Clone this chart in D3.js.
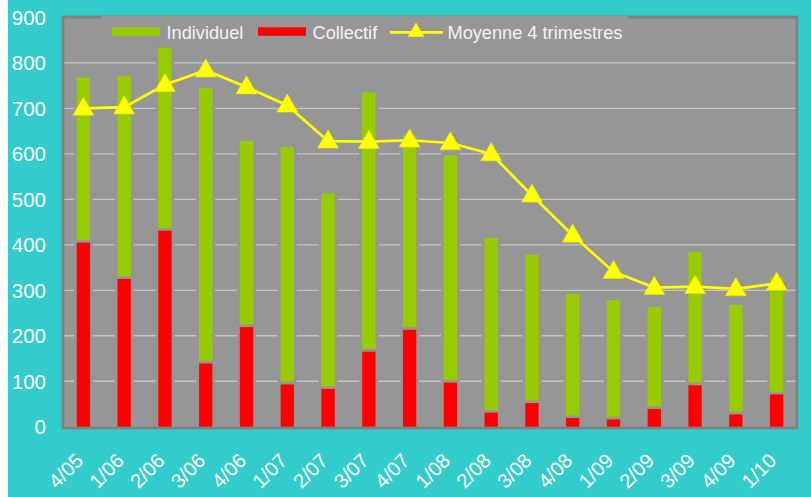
<!DOCTYPE html>
<html>
<head>
<meta charset="utf-8">
<script src="https://cdn.jsdelivr.net/npm/d3@7"></script>
<style>
    body{ margin:0; background:#ffffff; }
    svg{ display:block; font-family: Arial, "Liberation Sans", sans-serif; }
</style>
</head>
<body>
<div id="chart"></div>
<script>
// DATA ---------------------------------------------------------------------
const quarters = ["4/05","1/06","2/06","3/06","4/06","1/07","2/07","3/07","4/07",
                  "1/08","2/08","3/08","4/08","1/09","2/09","3/09","4/09","1/10"];
const collectif = [405, 325, 431, 139, 219, 93, 83, 165, 213, 97, 31, 52, 19, 16, 39, 91, 27, 71];
const individuel = [363, 446, 405, 606, 409, 522, 430, 570, 428, 500, 384, 326, 273, 262, 224, 294, 241, 258];
const moyenne = [700, 703, 752, 784, 747, 707, 628, 627, 630, 624, 600, 509, 421, 341, 306, 308, 303, 315];
const yTicks = [0, 100, 200, 300, 400, 500, 600, 700, 800, 900];
const legendItems = ["Individuel", "Collectif", "Moyenne 4 trimestres"];
// DATA ---------------------------------------------------------------------

class ComboChart{
    constructor(div){
        this.elements = { container: div, scales: {} };
        this.settings = {
            width: 811,
            height: 497,
            plot: { left: 63, right: 797, top: 17, bottom: 428 },
            colors: {
                page: "#33cccc",
                plot: "#969696",
                border: "#808080",
                grid: "#c4c4c4",
                individuel: "#99cc00",
                collectif: "#ff0000",
                moyenne: "#ffff00",
                text: "#ffffff",
            },
            halo: 2.7,
        };
    }

    //CONTROLLER ---------------------------------------------------------------
    renderChart(){
        this.createSvg();
        this.createScales();
        this.drawPlotArea();
        this.drawGrid();
        this.drawBars();
        this.drawLine();
        this.drawAxes();
        this.drawLegend();
    }

    createSvg(){
        const { width, height, colors } = this.settings;
        this.elements.svg = d3.select(this.elements.container)
            .append("svg")
            .attr("width", width)
            .attr("height", height);

        this.elements.svg.append("rect")
            .attr("x", 8).attr("y", 0)
            .attr("width", width - 8).attr("height", height)
            .attr("fill", colors.page);
    }

    createScales(){
        const { plot } = this.settings;
        this.elements.scales.x = d3.scaleBand()
            .domain(quarters)
            .range([plot.left, plot.right])
            .paddingInner(0.673)
            .paddingOuter(0.3365);

        this.elements.scales.y = d3.scaleLinear()
            .domain([0, 900])
            .range([plot.bottom - 1.3, plot.top + 0.5]);
    }

    //PLOT ---------------------------------------------------------------------
    drawPlotArea(){
        const { plot, colors } = this.settings;
        this.elements.svg.append("rect")
            .attr("x", plot.left)
            .attr("y", plot.top)
            .attr("width", plot.right - plot.left)
            .attr("height", plot.bottom - plot.top)
            .attr("fill", colors.plot)
            .attr("stroke", colors.border)
            .attr("stroke-width", 2.7);
    }

    drawGrid(){
        const { plot, colors } = this.settings;
        const { y } = this.elements.scales;
        this.elements.svg.append("g")
            .selectAll("line")
            .data(yTicks.filter(t => t > 0 && t < 900))
            .join("line")
            .attr("x1", plot.left + 1.4)
            .attr("x2", plot.right - 1.4)
            .attr("y1", d => y(d))
            .attr("y2", d => y(d))
            .attr("stroke", colors.grid)
            .attr("stroke-width", 1.3);
    }

    drawBars(){
        const { colors, halo } = this.settings;
        const { x, y } = this.elements.scales;
        const rows = quarters.map((q, i) => ({ q, col: collectif[i], ind: individuel[i] }));

        const groups = this.elements.svg.append("g")
            .selectAll("g")
            .data(rows)
            .join("g");

        // background-coloured halo that cuts the gridlines around each bar
        groups.append("rect")
            .attr("x", d => x(d.q) - halo)
            .attr("y", d => y(d.col + d.ind) - halo)
            .attr("width", x.bandwidth() + halo * 2)
            .attr("height", d => y(0) - y(d.col + d.ind) + halo)
            .attr("fill", colors.plot);

        groups.append("rect")
            .attr("x", d => x(d.q))
            .attr("y", d => y(d.col))
            .attr("width", x.bandwidth())
            .attr("height", d => y(0) - y(d.col))
            .attr("fill", colors.collectif);

        groups.append("rect")
            .attr("x", d => x(d.q))
            .attr("y", d => y(d.col + d.ind))
            .attr("width", x.bandwidth())
            .attr("height", d => Math.max(0, y(d.col) - y(d.col + d.ind) - halo))
            .attr("fill", colors.individuel);
    }

    drawLine(){
        const { colors } = this.settings;
        const { x, y } = this.elements.scales;
        const cx = q => x(q) + x.bandwidth() / 2;
        const points = quarters.map((q, i) => [cx(q), y(moyenne[i])]);

        this.elements.svg.append("path")
            .attr("d", d3.line()(points))
            .attr("fill", "none")
            .attr("stroke", colors.moyenne)
            .attr("stroke-width", 2.7);

        const triangle = d3.symbol().type(d3.symbolTriangle).size(190);
        this.elements.svg.append("g")
            .selectAll("path")
            .data(points)
            .join("path")
            .attr("d", triangle)
            .attr("transform", d => `translate(${d[0]}, ${d[1] + 0.8})`)
            .attr("fill", colors.moyenne)
            .attr("stroke", "#e8e800")
            .attr("stroke-width", 0.6);
    }

    //AXES ---------------------------------------------------------------------
    drawAxes(){
        const { colors } = this.settings;
        const { x, y } = this.elements.scales;

        this.elements.svg.append("g")
            .selectAll("text")
            .data(yTicks)
            .join("text")
            .attr("x", 46)
            .attr("y", d => y(d))
            .attr("dy", "0.36em")
            .attr("text-anchor", "end")
            .attr("font-size", 20.5)
            .attr("fill", colors.text)
            .text(d => d);

        this.elements.svg.append("g")
            .selectAll("text")
            .data(quarters)
            .join("text")
            .attr("text-anchor", "end")
            .attr("font-size", 20)
            .attr("fill", colors.text)
            .attr("transform", d => `translate(${x(d) + x.bandwidth() / 2 + 1}, 462) rotate(-45)`)
            .text(d => d);
    }

    //LEGEND -------------------------------------------------------------------
    drawLegend(){
        const { colors } = this.settings;
        const legend = this.elements.svg.append("g");

        legend.append("rect")
            .attr("x", 102).attr("y", 15.6)
            .attr("width", 526).attr("height", 32)
            .attr("fill", colors.plot);

        const swatchY = 27.3, swatchH = 8.5, textY = 39;
        const itemX = [112, 258, 390];
        const textX = [166.5, 312.5, 447.5];

        legend.append("rect")
            .attr("x", itemX[0]).attr("y", swatchY)
            .attr("width", 48).attr("height", swatchH)
            .attr("fill", colors.individuel);

        legend.append("rect")
            .attr("x", itemX[1]).attr("y", swatchY)
            .attr("width", 48).attr("height", swatchH)
            .attr("fill", colors.collectif);

        legend.append("line")
            .attr("x1", itemX[2]).attr("x2", itemX[2] + 53)
            .attr("y1", 32.3).attr("y2", 32.3)
            .attr("stroke", colors.moyenne)
            .attr("stroke-width", 2.7);

        legend.append("path")
            .attr("d", d3.symbol().type(d3.symbolTriangle).size(120))
            .attr("transform", `translate(${itemX[2] + 26}, 32)`)
            .attr("fill", colors.moyenne);

        legend.selectAll("text")
            .data(legendItems)
            .join("text")
            .attr("x", (d, i) => textX[i])
            .attr("y", textY)
            .attr("font-size", 18.2)
            .attr("fill", "#f4f4f4")
            .text(d => d);
    }
}

const chart = new ComboChart(document.getElementById("chart"));
chart.renderChart();
</script>
</body>
</html>
